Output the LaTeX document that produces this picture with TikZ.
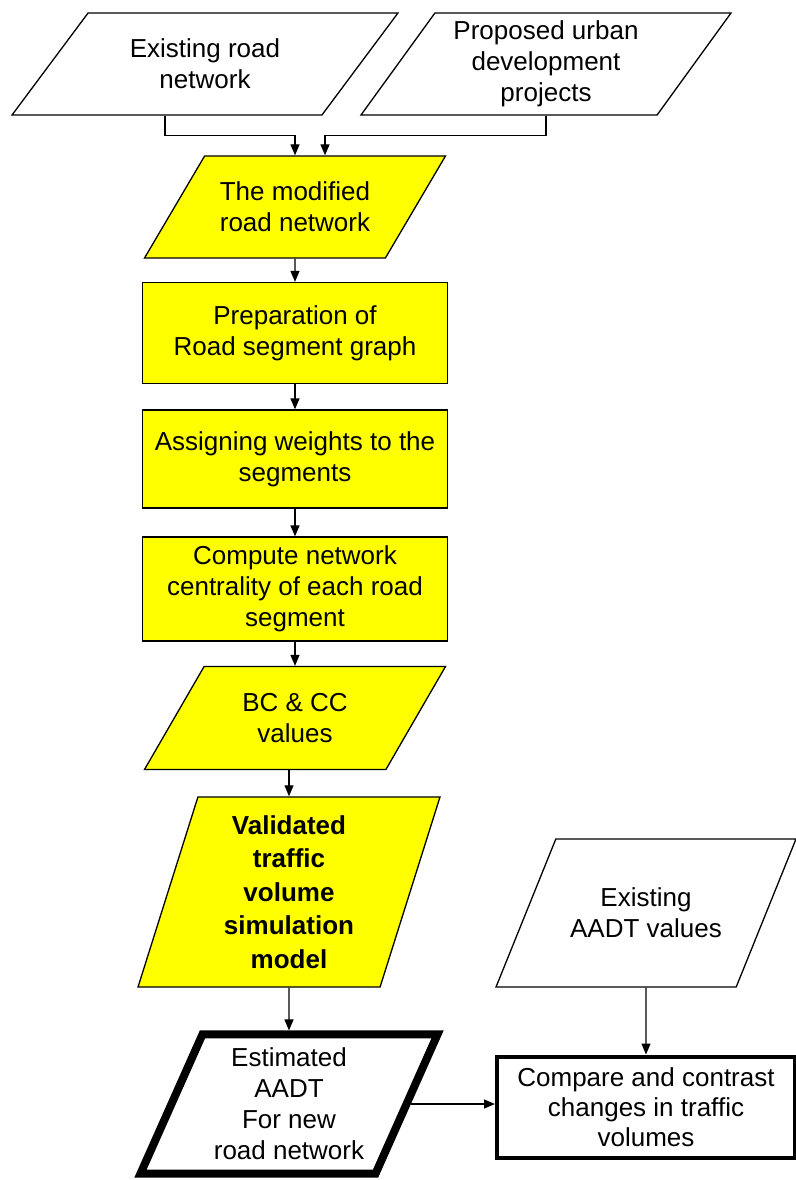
\documentclass[tikz,border=0pt]{standalone}
\usepackage{fontspec}
\setmainfont{Liberation Sans}
\usetikzlibrary{shapes.geometric,arrows.meta,positioning}

\definecolor{boxyellow}{RGB}{255,255,0}

\tikzset{
  base/.style={draw, line width=1.3pt, align=center, inner sep=2pt,
    font=\fontsize{26}{31}\selectfont},
  process/.style={base, rectangle, fill=boxyellow, minimum width=305pt, minimum height=101pt},
  % inner ysep is set per node so that the slant follows the angle
  io/.style={base, trapezium, trapezium stretches body=true},
  arr/.style={line width=1.3pt, -{Triangle[length=11pt,width=9pt]}},
}

\begin{document}
\begin{tikzpicture}[x=1pt,y=-1pt]
\useasboundingbox (0,0) rectangle (795,1180);

% inputs
\node[io, trapezium left angle=53.3, trapezium right angle=126.7, inner ysep=26pt,
  minimum width=386pt, minimum height=102pt] (roadnet) at (205,64)
  {Existing road\\network};
\node[io, trapezium left angle=54, trapezium right angle=126, inner ysep=7.75pt,
  minimum width=370pt, minimum height=102pt] (urbanproj) at (546,64)
  {Proposed urban\\development\\projects};

% main chain
\node[io, fill=boxyellow, trapezium left angle=59.5, trapezium right angle=120.5,
  inner ysep=26pt, minimum width=301pt, minimum height=102pt] (modnet) at (295,207)
  {The modified\\road network};
\node[process] (prep) at (295,333) {Preparation of\\Road segment graph};
\node[process, minimum height=98pt] (weights) at (295,459) {Assigning weights to the\\segments};
\node[process, minimum height=104pt] (centrality) at (295,589)
  {Compute network\\centrality of each road\\segment};
\node[io, fill=boxyellow, trapezium left angle=59.8, trapezium right angle=120.2,
  inner ysep=26.5pt, minimum width=301pt, minimum height=103pt] (bccc) at (295,718)
  {BC \& CC\\values};
\node[io, fill=boxyellow, trapezium left angle=72.5, trapezium right angle=107.5,
  inner ysep=18.5pt, minimum width=302pt, minimum height=190pt,
  font=\fontsize{26}{33.5}\selectfont\bfseries] (model) at (289,892)
  {Validated\\traffic\\volume\\simulation\\model};
\node[io, line width=8pt, trapezium left angle=66, trapezium right angle=114,
  inner ysep=13.5pt, minimum width=297pt, minimum height=139pt] (aadtest) at (289,1104)
  {Estimated\\AADT\\For new\\road network};

% observed counts and comparison
\node[io, trapezium left angle=68, trapezium right angle=112, inner ysep=49pt,
  minimum width=300pt, minimum height=148pt] (aadtobs) at (646,913)
  {Existing\\AADT values};
\node[base, rectangle, line width=4pt, minimum width=298pt, minimum height=101pt,
  font=\fontsize{26}{30}\selectfont] (compare) at (646,1107)
  {Compare and contrast\\changes in traffic\\volumes};

% connectors
\draw[arr] ([xshift=-40pt]roadnet.south) -- ++(0,20) -| (modnet.north);
\draw[arr] (urbanproj.south) -- ++(0,20) -| ([xshift=30pt]modnet.north);
\draw[arr] (modnet) -- (prep);
\draw[arr] (prep) -- (weights);
\draw[arr] (weights) -- (centrality);
\draw[arr] (centrality) -- (bccc);
\draw[arr] (model.north |- bccc.south) -- (model.north);
\draw[arr] (model) -- (aadtest);
\draw[arr] (aadtobs) -- (compare);
\draw[arr] (aadtest.east) -- (compare.west |- aadtest.east);
\end{tikzpicture}
\end{document}
